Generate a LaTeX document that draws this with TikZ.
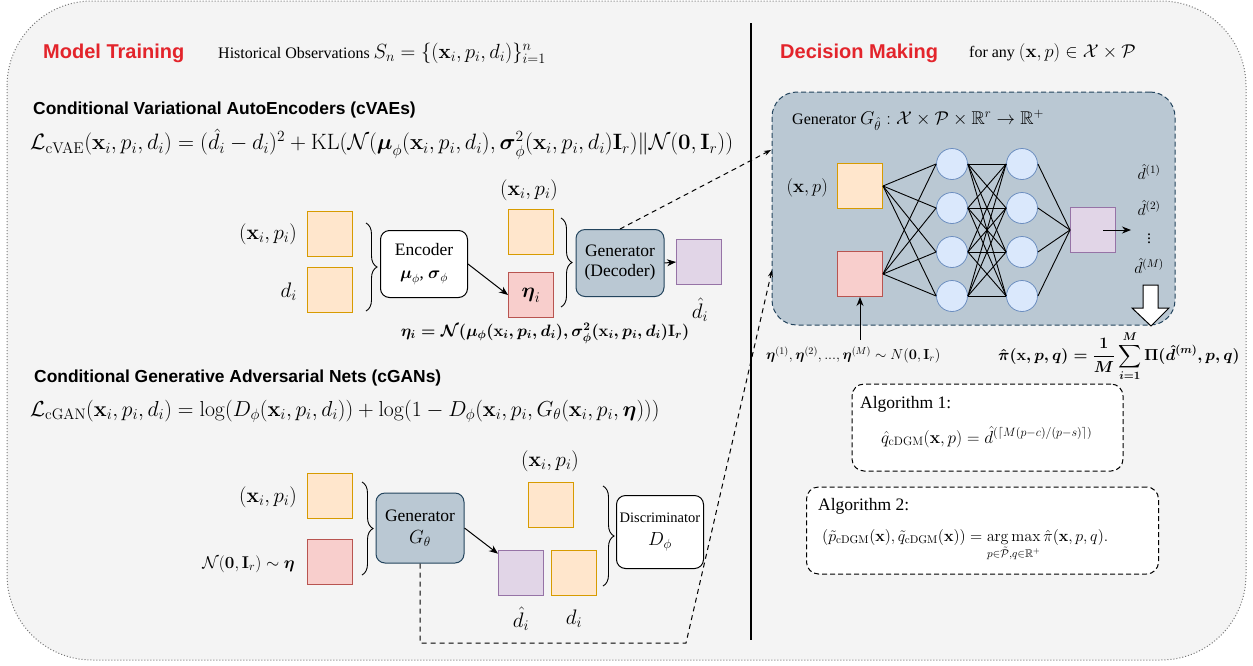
\RequirePackage{fix-cm}
\documentclass[tikz,border=0pt]{standalone}
\usepackage{amsmath}
\usepackage{amssymb}
\usepackage[no-math]{fontspec}
\setmainfont{Liberation Serif}
\newfontfamily\headfont{Liberation Sans}
\usetikzlibrary{arrows.meta,decorations.pathreplacing}

\definecolor{bgfill}{HTML}{F4F4F4}
\definecolor{bgline}{HTML}{777777}
\definecolor{featfill}{HTML}{FFE6CC}
\definecolor{featline}{HTML}{D79B00}
\definecolor{noisefill}{HTML}{F8CECC}
\definecolor{noiseline}{HTML}{B85450}
\definecolor{outfill}{HTML}{E1D5E7}
\definecolor{outdraw}{HTML}{9673A6}
\definecolor{netfill}{HTML}{BAC8D3}
\definecolor{netline}{HTML}{23445D}
\definecolor{neuronfill}{HTML}{DAE8FC}
\definecolor{neuronline}{HTML}{6C8EBF}
\definecolor{titlered}{HTML}{E3242B}

\newcommand{\mathsz}{\fontsize{18.5}{22}\selectfont}

\begin{document}
\begin{tikzpicture}[x=1pt,y=-1pt,
    every node/.style={font=\fontsize{16}{19}\selectfont, inner sep=0pt},
    lbl/.style={font=\fontsize{21}{25}\selectfont},
    title/.style={font=\headfont\bfseries\fontsize{20}{24}\selectfont, text=titlered},
    subtitle/.style={font=\headfont\bfseries\fontsize{17.4}{20}\selectfont},
    feat/.style={draw=featline, fill=featfill, minimum size=45, line width=1pt},
    noise/.style={draw=noiseline, fill=noisefill, minimum size=45, line width=1pt},
    outbox/.style={draw=outdraw, fill=outfill, minimum size=45, line width=1pt},
    netbox/.style={draw=netline, fill=netfill, rounded corners=9pt, minimum width=88, minimum height=67, align=center, line width=1pt, font=\fontsize{17.5}{20}\selectfont},
    plainbox/.style={draw=black, fill=white, rounded corners=9pt, minimum width=87, minimum height=67, align=center, line width=1pt, font=\fontsize{17.5}{20}\selectfont},
    neuron/.style={circle, draw=neuronline, fill=neuronfill, minimum size=31, line width=0.8pt},
    algbox/.style={draw=black, fill=white, dashed, dash pattern=on 5pt off 3pt, rounded corners=12pt, line width=1pt},
    brc/.style={decorate, decoration={brace, amplitude=11pt}, line width=0.9pt},
    arr/.style={-{Stealth[length=9pt,width=7pt]}, line width=1pt},
    link/.style={dash pattern=on 5pt off 4pt, line width=1pt, -{Stealth[length=7pt,width=5pt]}},
    wire/.style={line width=0.9pt}]
\useasboundingbox (0,0) rectangle (1253,665);
\draw[bgline, fill=bgfill, dotted, line width=1pt, rounded corners=85] (7,1) rectangle (1246,660);
\draw[line width=1.2pt] (751,23) -- (751,640);

% model training side
\node[title, anchor=west] (mt) at (43,53) {Model Training};
\node[anchor=west] (hist) at (218,53) {Historical Observations {\fontsize{20.5}{24}\selectfont$S_n=\{(\mathbf{x}_i,p_i,d_i)\}_{i=1}^{n}$}};

\node[subtitle, anchor=west] (vaeh) at (33,110) {Conditional Variational AutoEncoders (cVAEs)};
\node[anchor=west, font=\fontsize{22.2}{26}\selectfont] (vaeloss) at (30,144) {$\mathcal{L}_{\mathrm{cVAE}}(\mathbf{x}_i,p_i,d_i)=(\hat{d}_i-d_i)^2+\mathrm{KL}(\mathcal{N}(\boldsymbol{\mu}_\phi(\mathbf{x}_i,p_i,d_i),\boldsymbol{\sigma}^2_\phi(\mathbf{x}_i,p_i,d_i)\mathbf{I}_r)\|\mathcal{N}(\mathbf{0},\mathbf{I}_r))$};

\node[feat] (vx) at (330,234) {};
\node[feat] (vd) at (330,290) {};
\node[lbl, anchor=east] (vxl) at (297,234) {$(\mathbf{x}_i,p_i)$};
\node[lbl, anchor=east] (vdl) at (297,292) {$d_i$};
\draw[brc] (366,223) -- (366,311);
\node[plainbox] (enc) at (424,264) {Encoder\\[3pt]{\fontsize{17}{20}\selectfont$\boldsymbol{\mu}_\phi$, $\boldsymbol{\sigma}_\phi$}};
\node[lbl] (vx2l) at (529,190) {$(\mathbf{x}_i,p_i)$};
\node[feat] (vx2) at (531,232) {};
\node[noise, lbl] (eta) at (531,295) {$\boldsymbol{\eta}_i$};
\draw[brc] (561,218) -- (561,307);
\node[netbox] (dec) at (620,263) {Generator\\(Decoder)};
\node[outbox] (dhat) at (699,262) {};
\node[lbl] (dhatl) at (700,310) {$\hat{d}_i$};
\node[font=\fontsize{16.5}{19}\selectfont] (etaf) at (545,333) {$\boldsymbol{\eta_i=\mathcal{N}(\mu_\phi(\mathbf{x}_i,p_i,d_i),\sigma^2_\phi(\mathbf{x}_i,p_i,d_i)\mathbf{I}_r)}$};
\draw[arr] (enc.east) -- (eta.west);
\draw[arr] (dec.east) -- (dhat.west);

\node[subtitle, anchor=west] (ganh) at (34,378) {Conditional Generative Adversarial Nets (cGANs)};
\node[anchor=west, font=\fontsize{21.7}{25}\selectfont] (ganloss) at (30,411) {$\mathcal{L}_{\mathrm{cGAN}}(\mathbf{x}_i,p_i,d_i)=\log(D_\phi(\mathbf{x}_i,p_i,d_i))+\log(1-D_\phi(\mathbf{x}_i,p_i,G_\theta(\mathbf{x}_i,p_i,\boldsymbol{\eta})))$};

\node[feat] (gx) at (330,496) {};
\node[noise] (gz) at (330,562) {};
\node[lbl, anchor=east] (gxl) at (297,497) {$(\mathbf{x}_i,p_i)$};
\node[anchor=east, font=\fontsize{17}{20}\selectfont] (gzl) at (295,564) {$\mathcal{N}(\mathbf{0},\mathbf{I}_r)\sim\boldsymbol{\eta}$};
\draw[brc] (362,482) -- (362,575);
\node[netbox, minimum height=70] (gen) at (420,528) {Generator\\[2pt]{\fontsize{19}{22}\selectfont$G_\theta$}};
\node[lbl] (gx2l) at (550,461) {$(\mathbf{x}_i,p_i)$};
\node[feat] (gx2) at (551,505) {};
\node[outbox] (dfake) at (521,573) {};
\node[feat] (dreal) at (574,573) {};
\node[lbl] (dfakel) at (521,619) {$\hat{d}_i$};
\node[lbl] (dreall) at (574,619) {$d_i$};
\draw[brc] (603,486) -- (603,586);
\node[plainbox, minimum height=73] (disc) at (660,532) {{\fontsize{14.5}{17}\selectfont Discriminator}\\[3pt]{\fontsize{19}{22}\selectfont$D_\phi$}};
\draw[arr] (gen.east) -- (dfake.140);

% decision making side
\node[title, anchor=west] (dm) at (780,53) {Decision Making};
\node[anchor=west] (forany) at (969,53) {for any {\mathsz$(\mathbf{x},p)\in\mathcal{X}\times\mathcal{P}$}};
\node[netbox, dash pattern=on 5pt off 3pt, rounded corners=25pt, minimum width=403, minimum height=233] (gbox) at (973.5,208.5) {};
\node[anchor=west] (gtitle) at (792,120) {Generator {\mathsz$G_{\hat{\theta}}:\mathcal{X}\times\mathcal{P}\times\mathbb{R}^r\to\mathbb{R}^+$}};
\node[feat] (nx) at (860,186) {};
\node[noise] (nz) at (860,274) {};
\node[anchor=east, font=\mathsz] (nxl) at (828,188) {$(\mathbf{x},p)$};
\foreach \i/\y in {1/164,2/208,3/252,4/296} {
  \node[neuron] (a\i) at (952,\y) {};
  \node[neuron] (b\i) at (1022,\y) {};
}
\node[outbox] (nout) at (1093,230) {};
\foreach \i in {1,...,4} {
  \draw[wire] (nx.east) -- (a\i.west);
  \draw[wire] (nz.east) -- (a\i.west);
  \draw[wire] (b\i.east) -- (nout.west);
  \foreach \j in {1,...,4}
    \draw[wire] (a\i.east) -- (b\j.west);
}
\node (o1) at (1149,172) {$\hat{d}^{(1)}$};
\node (o2) at (1149,208) {$\hat{d}^{(2)}$};
\node (odots) at (1149,236) {$\vdots$};
\node (oM) at (1149,266) {$\hat{d}^{(M)}$};
\coordinate (oend) at (1131,230);
\draw[arr] (nout.center) ++(10,0) -- (oend);
\draw[fill=white, line width=1pt] (1143,285) -- (1158,285) -- (1158,308) -- (1169,308) -- (1151,326) -- (1132,308) -- (1143,308) -- cycle;

\coordinate (zin) at (860,340);
\draw[arr] (zin) -- (nz.south);
\node[anchor=west, font=\fontsize{14.5}{17}\selectfont] (zl) at (766,355) {$\boldsymbol{\eta}^{(1)},\boldsymbol{\eta}^{(2)},...,\boldsymbol{\eta}^{(M)}\sim N(\mathbf{0},\mathbf{I}_r)$};
\node[anchor=west] (pihat) at (998,356) {$\displaystyle\boldsymbol{\hat{\pi}(\mathbf{x},p,q)=\frac{1}{M}\sum_{i=1}^{M}\Pi(\hat{d}^{(m)},p,q)}$};

\node[algbox, minimum width=271, minimum height=87] (alg1) at (987.5,427.5) {};
\node[anchor=west, font=\fontsize{17.5}{20}\selectfont] (alg1t) at (860,404) {Algorithm 1:};
\node[anchor=west, font=\fontsize{17.3}{20}\selectfont] (alg1f) at (881,437) {$\hat{q}_{\mathrm{cDGM}}(\mathbf{x},p)=\hat{d}^{(\lceil M(p-c)/(p-s)\rceil)}$};
\node[algbox, minimum width=352, minimum height=87] (alg2) at (982.5,530.5) {};
\node[anchor=west, font=\fontsize{17.5}{20}\selectfont] (alg2t) at (818,506) {Algorithm 2:};
\node[anchor=west] (alg2f) at (822,545) {$\displaystyle(\tilde{p}_{\mathrm{cDGM}}(\mathbf{x}),\tilde{q}_{\mathrm{cDGM}}(\mathbf{x}))=\operatorname*{arg\,max}_{p\in\tilde{\mathcal{P}},q\in\mathbb{R}^+}\hat{\pi}(\mathbf{x},p,q).$};

% dashed links into the trained generator
\coordinate (gin1) at (771,150);
\coordinate (gin2) at (772,270);
\coordinate (bend) at (686,643);
\draw[link] (dec.north) -- (gin1);
\draw[link] (gen.south) |- (bend) -- (gin2);
\end{tikzpicture}
\end{document}
